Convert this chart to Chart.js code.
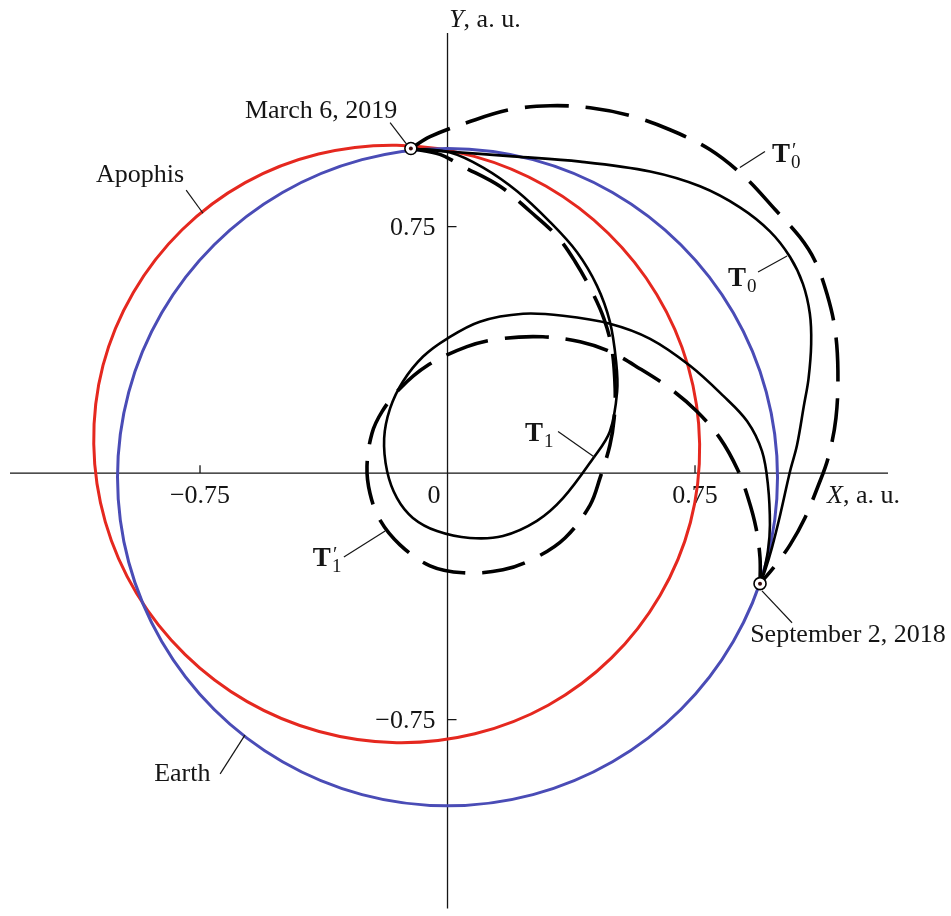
<!DOCTYPE html>
<html>
<head>
<meta charset="utf-8">
<script src="https://cdn.jsdelivr.net/npm/chart.js@4/dist/chart.umd.min.js"></script>
<style>
  html, body { margin: 0; padding: 0; background: #ffffff; }
  #wrap { width: 951px; height: 916px; }
</style>
</head>
<body>
<div id="wrap"><canvas id="orbits" width="951" height="916"></canvas></div>
<script>
// Heliocentric ecliptic coordinates, astronomical units.
const marchPoint = [-0.111, 0.988];      // March 6, 2019
const septemberPoint = [0.947, -0.336];  // September 2, 2018

// Closed orbits: each point listed once, the loop is closed when drawn.
const earthOrbit = [
  [1.000, -0.012], [0.966, 0.247], [0.866, 0.488], [0.707, 0.695], [0.500, 0.854],
  [0.259, 0.954], [0.000, 0.988], [-0.259, 0.954], [-0.500, 0.854], [-0.707, 0.695],
  [-0.866, 0.488], [-0.966, 0.247], [-1.000, -0.012], [-0.966, -0.271], [-0.866, -0.512],
  [-0.707, -0.719], [-0.500, -0.878], [-0.259, -0.978], [0.000, -1.012], [0.259, -0.978],
  [0.500, -0.878], [0.707, -0.719], [0.866, -0.512], [0.966, -0.271]
];

const apophisOrbit = [
  [0.764, 0.089], [0.729, 0.326], [0.634, 0.544], [0.487, 0.730], [0.299, 0.873],
  [0.081, 0.964], [-0.154, 0.998], [-0.391, 0.971], [-0.613, 0.884], [-0.805, 0.740],
  [-0.952, 0.550], [-1.044, 0.328], [-1.072, 0.089], [-1.037, -0.148], [-0.942, -0.366],
  [-0.795, -0.552], [-0.607, -0.695], [-0.389, -0.786], [-0.154, -0.820], [0.083, -0.793],
  [0.305, -0.706], [0.497, -0.562], [0.644, -0.372], [0.736, -0.150]
];

const trajectoryT0 = [
  marchPoint, [-0.002, 0.979], [0.198, 0.964], [0.402, 0.948], [0.614, 0.918],
  [0.765, 0.873], [0.886, 0.809], [0.977, 0.736], [1.038, 0.658], [1.077, 0.576],
  [1.098, 0.485], [1.102, 0.394], [1.094, 0.288], [1.080, 0.206], [1.059, 0.085],
  [1.038, 0.006], [1.008, -0.127], [0.983, -0.227], [0.962, -0.297], septemberPoint
];

const trajectoryT0p = [
  marchPoint, [-0.053, 1.024], [0.068, 1.070], [0.189, 1.106], [0.311, 1.118],
  [0.432, 1.112], [0.553, 1.088], [0.674, 1.045], [0.795, 0.985], [0.902, 0.900],
  [0.992, 0.803], [1.068, 0.718], [1.114, 0.645], [1.150, 0.545], [1.174, 0.439],
  [1.183, 0.312], [1.177, 0.167], [1.153, 0.045], [1.123, -0.039], [1.083, -0.136],
  [1.038, -0.218], [0.992, -0.282], septemberPoint
];

const trajectoryT1 = [
  marchPoint, [0.008, 0.976], [0.108, 0.930], [0.211, 0.858], [0.311, 0.764],
  [0.392, 0.673], [0.453, 0.570], [0.492, 0.461], [0.511, 0.339], [0.514, 0.248],
  [0.492, 0.127], [0.441, 0.045], [0.350, -0.076], [0.271, -0.145], [0.168, -0.191],
  [0.068, -0.197], [-0.032, -0.176], [-0.105, -0.136], [-0.153, -0.076], [-0.183, 0.006],
  [-0.192, 0.106], [-0.174, 0.197], [-0.135, 0.279], [-0.074, 0.355], [-0.002, 0.409],
  [0.098, 0.461], [0.229, 0.485], [0.350, 0.479], [0.492, 0.455], [0.614, 0.409],
  [0.735, 0.327], [0.835, 0.236], [0.908, 0.158], [0.953, 0.067], [0.971, -0.036],
  [0.977, -0.158], [0.971, -0.236], [0.956, -0.309], septemberPoint
];

const trajectoryT1p = [
  marchPoint, [-0.023, 0.970], [0.047, 0.933], [0.159, 0.873], [0.250, 0.797],
  [0.332, 0.721], [0.386, 0.645], [0.438, 0.552], [0.474, 0.470], [0.498, 0.379],
  [0.508, 0.258], [0.505, 0.167], [0.492, 0.085], [0.462, -0.015], [0.432, -0.097],
  [0.356, -0.197], [0.265, -0.258], [0.168, -0.294], [0.047, -0.303], [-0.053, -0.282],
  [-0.144, -0.218], [-0.205, -0.142], [-0.235, -0.061], [-0.244, 0.021], [-0.229, 0.121],
  [-0.198, 0.188], [-0.144, 0.258], [-0.062, 0.327], [0.059, 0.385], [0.159, 0.409],
  [0.289, 0.415], [0.402, 0.400], [0.492, 0.370], [0.583, 0.318], [0.674, 0.258],
  [0.756, 0.188], [0.826, 0.106], [0.880, 0.009], [0.911, -0.076], [0.935, -0.167],
  [0.947, -0.258], septemberPoint
];

// Axis ticks
const xTickValues = [-0.75, 0, 0.75];
const xTickLabels = ['\u22120.75', '0', '0.75'];
const yTickValues = [0.75, -0.75];
const yTickLabels = ['0.75', '\u22120.75'];

// Callout labels: text, anchor of text (left, baseline), leader line from -> to
const callouts = [
  { text: 'March 6, 2019', at: [-0.614, 1.082], from: [-0.174, 1.067], to: [-0.123, 1.000] },
  { text: 'Apophis', at: [-1.065, 0.885], from: [-0.792, 0.861], to: [-0.741, 0.791] },
  { text: 'Earth', at: [-0.889, -0.936], from: [-0.689, -0.915], to: [-0.614, -0.797] },
  { text: 'September 2, 2018', at: [0.917, -0.515], from: [0.953, -0.358], to: [1.044, -0.455] }
];
const trajectoryLabels = [
  { sub: '0', prime: true,  at: [0.983, 0.948],  from: [0.962, 0.979],  to: [0.886, 0.930] },
  { sub: '0', prime: false, at: [0.850, 0.570],  from: [0.941, 0.612],  to: [1.029, 0.661] },
  { sub: '1', prime: false, at: [0.235, 0.097],  from: [0.335, 0.127],  to: [0.447, 0.048] },
  { sub: '1', prime: true,  at: [-0.408, -0.282], from: [-0.314, -0.255], to: [-0.189, -0.176] }
];

const SERIF = '"Liberation Serif", "DejaVu Serif", serif';
const INK = '#151515';
const pts = arr => arr.map(([x, y]) => ({ x, y }));

const curve = (label, data, color, width, dash, order, tension) => ({
  label, data: pts(data), showLine: true, borderColor: color, borderWidth: width,
  borderDash: dash, borderCapStyle: 'butt', pointRadius: 0, pointHoverRadius: 0,
  fill: false, tension, order
});

// A closed orbit: one extra point on each side gives the spline the right
// tangents at the seam; the two outer segments are left invisible.
const loop = (label, ring, color, width, order) => {
  const n = ring.length;
  const wrapped = [ring[n - 1], ...ring, ring[0], ring[1]];
  const last = wrapped.length - 2;
  const ds = curve(label, wrapped, color, width, [], order, 0.34);
  ds.segment = {
    borderColor: c => (c.p0DataIndex === 0 || c.p0DataIndex === last) ? 'rgba(0,0,0,0)' : undefined
  };
  return ds;
};

const axesPlugin = {
  id: 'centerAxes',
  beforeDatasetsDraw(chart) {
    const { ctx, chartArea: a, scales: { x, y } } = chart;
    const x0 = x.getPixelForValue(0), y0 = y.getPixelForValue(0);
    ctx.save();
    ctx.strokeStyle = INK;
    ctx.lineWidth = 1.3;
    ctx.beginPath();
    ctx.moveTo(a.left, y0); ctx.lineTo(a.right, y0);
    ctx.moveTo(x0, a.top); ctx.lineTo(x0, a.bottom);
    xTickValues.forEach(v => {
      if (v === 0) return;
      const px = x.getPixelForValue(v);
      ctx.moveTo(px, y0); ctx.lineTo(px, y0 - 8);
    });
    yTickValues.forEach(v => {
      const py = y.getPixelForValue(v);
      ctx.moveTo(x0, py); ctx.lineTo(x0 + 9, py);
    });
    ctx.stroke();

    ctx.fillStyle = INK;
    ctx.font = '26px ' + SERIF;
    ctx.textBaseline = 'alphabetic';
    const base = y.getPixelForValue(-0.091);
    xTickValues.forEach((v, i) => {
      if (v === 0) {
        ctx.textAlign = 'right';
        ctx.fillText(xTickLabels[i], x0 - 7, base);
      } else {
        ctx.textAlign = 'center';
        ctx.fillText(xTickLabels[i], x.getPixelForValue(v), base);
      }
    });
    ctx.textAlign = 'right';
    ctx.textBaseline = 'middle';
    yTickValues.forEach((v, i) => {
      ctx.fillText(yTickLabels[i], x0 - 12, y.getPixelForValue(v) + 1);
    });

    // Axis titles
    ctx.textAlign = 'left';
    ctx.textBaseline = 'alphabetic';
    const title = (letter, px, py) => {
      ctx.font = 'italic 26px ' + SERIF;
      ctx.fillText(letter, px, py);
      const w = ctx.measureText(letter).width;
      ctx.font = '26px ' + SERIF;
      ctx.fillText(', a. u.', px + w, py);
    };
    title('Y', x.getPixelForValue(0.005), y.getPixelForValue(1.358));
    title('X', x.getPixelForValue(1.150), y.getPixelForValue(-0.091));
    ctx.restore();
  }
};

const labelPlugin = {
  id: 'callouts',
  afterDatasetsDraw(chart) {
    const { ctx, scales: { x, y } } = chart;
    const P = ([vx, vy]) => [x.getPixelForValue(vx), y.getPixelForValue(vy)];
    ctx.save();
    ctx.strokeStyle = INK;
    ctx.fillStyle = INK;
    ctx.lineWidth = 1.2;
    const leader = (f, t) => {
      const [fx, fy] = P(f), [tx, ty] = P(t);
      ctx.beginPath(); ctx.moveTo(fx, fy); ctx.lineTo(tx, ty); ctx.stroke();
    };
    ctx.textAlign = 'left';
    ctx.textBaseline = 'alphabetic';
    callouts.forEach(c => {
      leader(c.from, c.to);
      ctx.font = '26px ' + SERIF;
      const [px, py] = P(c.at);
      ctx.fillText(c.text, px, py);
    });
    trajectoryLabels.forEach(c => {
      leader(c.from, c.to);
      const [px, py] = P(c.at);
      ctx.font = 'bold 27px ' + SERIF;
      ctx.fillText('T', px, py);
      const w = ctx.measureText('T').width;
      ctx.font = '19px ' + SERIF;
      ctx.fillText(c.sub, px + w + 1, py + 6);
      if (c.prime) {
        ctx.font = '20px ' + SERIF;
        ctx.fillText('\u2032', px + w + 2, py - 5);
      }
    });
    ctx.restore();
  }
};

new Chart(document.getElementById('orbits'), {
  type: 'scatter',
  data: {
    datasets: [
      { label: 'dates', data: pts([marchPoint, septemberPoint]), showLine: false,
        pointRadius: 2, pointBackgroundColor: '#3a0c0c', pointBorderWidth: 0, order: 0 },
      { label: 'date rings', data: pts([marchPoint, septemberPoint]), showLine: false,
        pointRadius: 6, pointBackgroundColor: '#ffffff', pointBorderColor: '#000000',
        pointBorderWidth: 1.6, order: 1 },
      curve('T0\u2032', trajectoryT0p, '#000000', 3.6, [44, 17], 2, 0.35),
      curve('T1\u2032', trajectoryT1p, '#000000', 3.6, [44, 17], 3, 0.35),
      curve('T0', trajectoryT0, '#000000', 2.6, [], 4, 0.35),
      curve('T1', trajectoryT1, '#000000', 2.6, [], 5, 0.35),
      loop('Earth', earthOrbit, '#4a4cb6', 3, 6),
      loop('Apophis', apophisOrbit, '#e5281f', 3, 7)
    ]
  },
  options: {
    responsive: false,
    devicePixelRatio: 1,
    animation: false,
    events: [],
    layout: { padding: { left: 10, right: 63, top: 33, bottom: 4 } },
    scales: {
      x: { type: 'linear', min: -1.3258, max: 1.3348, display: false },
      y: { type: 'linear', min: -1.3242, max: 1.3394, display: false }
    },
    plugins: { legend: { display: false }, tooltip: { enabled: false } }
  },
  plugins: [axesPlugin, labelPlugin]
});
</script>
</body>
</html>
